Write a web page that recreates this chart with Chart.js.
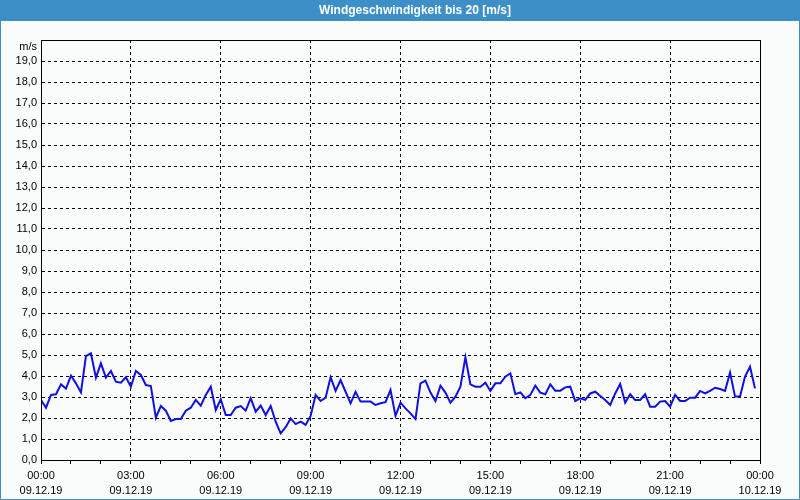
<!DOCTYPE html>
<html><head><meta charset="utf-8">
<script src="https://cdn.jsdelivr.net/npm/chart.js@4.4.0/dist/chart.umd.min.js"></script>
<style>html,body{margin:0;padding:0;background:#f9fcfa;}#wrap{width:800px;height:500px;position:relative}</style>
</head><body><div id="wrap"><canvas id="c" width="800" height="500"></canvas></div>
<script>
const chartTitle = 'Windgeschwindigkeit bis 20 [m/s]';
const yUnit = 'm/s';
const intervalMinutes = 10;
// wind speed [m/s], one reading every 10 minutes from 09.12.19 00:00
const speed = [
  2.86,2.49,3.10,3.13,3.60,3.40,4.02,3.65,3.22,4.95,5.08,3.92,4.60,3.92,4.24,3.73,3.68,3.94,3.49,4.24,
  4.05,3.57,3.52,2.02,2.57,2.35,1.86,1.95,1.95,2.35,2.49,2.86,2.59,3.10,3.49,2.38,2.89,2.14,2.14,2.49,
  2.57,2.35,2.94,2.30,2.59,2.14,2.57,1.83,1.27,1.56,1.98,1.71,1.83,1.67,2.10,3.10,2.81,2.97,3.94,3.29,
  3.81,3.25,2.70,3.25,2.78,2.78,2.78,2.62,2.70,2.75,3.33,2.10,2.73,2.46,2.22,1.95,3.65,3.78,3.21,2.81,
  3.54,3.21,2.73,3.02,3.49,4.89,3.60,3.49,3.49,3.68,3.29,3.65,3.65,3.97,4.13,3.13,3.22,2.94,3.10,3.54,
  3.21,3.13,3.60,3.30,3.30,3.46,3.49,2.81,2.94,2.86,3.17,3.25,3.05,2.86,2.62,3.17,3.62,2.73,3.13,2.86,
  2.86,3.14,2.54,2.54,2.78,2.81,2.54,3.10,2.81,2.81,2.97,2.97,3.29,3.17,3.29,3.44,3.38,3.29,4.16,3.02,
  3.02,3.97,4.44,3.41
];
const timeLabels = ['00:00','03:00','06:00','09:00','12:00','15:00','18:00','21:00','00:00'];
const dateLabels = ['09.12.19','09.12.19','09.12.19','09.12.19','09.12.19','09.12.19','09.12.19','09.12.19','10.12.19'];
const yMin = 0, yMax = 20;

const points = speed.map((v, i) => ({x: i * intervalMinutes / 60, y: v}));

const BLUE = 'rgb(61,143,199)';
const BG = '#f9fcfa';

const framePlugin = {
  id: 'frame',
  beforeDraw(chart) {
    const ctx = chart.ctx, W = chart.width, H = chart.height;
    ctx.save();
    ctx.fillStyle = BG; ctx.fillRect(0, 0, W, H);
    ctx.fillStyle = BLUE; ctx.fillRect(0, 0, W, 21);
    ctx.strokeStyle = BLUE; ctx.lineWidth = 1;
    ctx.beginPath();
    ctx.moveTo(0.5, 21); ctx.lineTo(0.5, H - 0.5); ctx.lineTo(W - 0.5, H - 0.5); ctx.lineTo(W - 0.5, 21);
    ctx.stroke();
    ctx.fillStyle = '#ffffff';
    ctx.font = 'bold 12px "Liberation Sans", Arial, sans-serif';
    ctx.textAlign = 'center'; ctx.textBaseline = 'middle';
    ctx.fillText(chartTitle, 415, 10.5);
    ctx.restore();
  },
  afterDraw(chart) {
    const ctx = chart.ctx, a = chart.chartArea;
    ctx.save();
    ctx.strokeStyle = '#000'; ctx.lineWidth = 1; ctx.setLineDash([]);
    const l = Math.round(a.left) + 0.5, t = Math.round(a.top) + 0.5;
    ctx.strokeRect(l, t, Math.round(a.right) - Math.round(a.left), Math.round(a.bottom) - Math.round(a.top));
    ctx.fillStyle = '#000';
    ctx.font = '11px "Liberation Sans", Arial, sans-serif';
    ctx.textAlign = 'right'; ctx.textBaseline = 'middle';
    ctx.fillText(yUnit, a.left - 4, a.top + 7);
    ctx.restore();
  }
};

Chart.defaults.font.family = '"Liberation Sans", Arial, sans-serif';
Chart.defaults.font.size = 11;
Chart.defaults.color = '#000';

new Chart(document.getElementById('c'), {
  type: 'line',
  data: {
    datasets: [{
      data: points,
      borderColor: '#1010e0',
      borderWidth: 2,
      pointRadius: 0,
      tension: 0,
      fill: false
    }]
  },
  options: {
    responsive: false,
    animation: false,
    devicePixelRatio: 1,
    layout: {padding: {top: 40, left: 0, right: 40, bottom: 0}},
    plugins: {legend: {display: false}, title: {display: false}, tooltip: {enabled: false}},
    scales: {
      x: {
        type: 'linear', min: 0, max: 24,
        afterFit(s) { s.height = 40; },
        ticks: {
          stepSize: 1, autoSkip: false, maxRotation: 0, padding: 4,
          font: {size: 11, lineHeight: 1.4},
          callback(v) {
            if (v % 3 !== 0) return '';
            const k = v / 3;
            return [timeLabels[k], dateLabels[k]];
          }
        },
        grid: {
          color: c => (c.tick && c.tick.value % 3 === 0) ? '#000' : 'rgba(0,0,0,0)',
          tickColor: '#000', tickLength: 4, lineWidth: 1
        },
        border: {display: true, color: '#000', width: 1, dash: [3, 3]}
      },
      y: {
        min: yMin, max: yMax,
        afterFit(s) { s.width = 41; },
        ticks: {
          stepSize: 1, autoSkip: false, padding: 4,
          callback(v) { return v === yMax ? '' : v.toFixed(1).replace('.', ','); }
        },
        grid: {color: '#000', drawTicks: false, lineWidth: 1},
        border: {display: true, color: '#000', width: 1, dash: [3, 3]}
      }
    }
  },
  plugins: [framePlugin]
});
</script>
</body></html>
